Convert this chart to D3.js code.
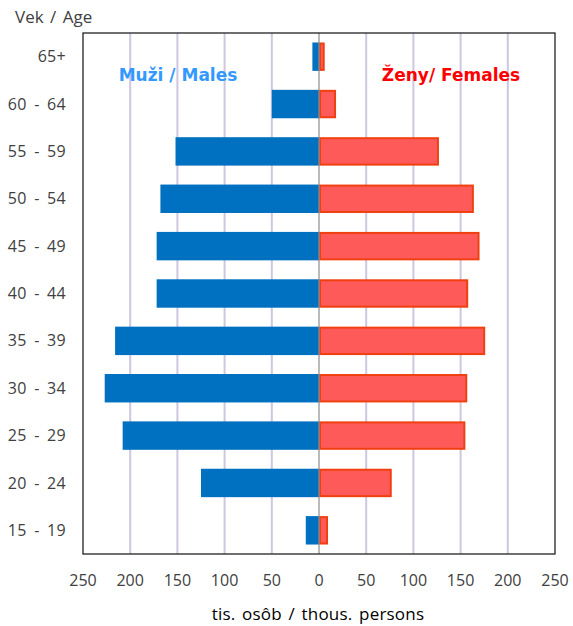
<!DOCTYPE html>
<html><head><meta charset="utf-8">
<script src="https://cdn.jsdelivr.net/npm/d3@7"></script>
<style>body{margin:0;background:#fff}svg{display:block}</style>
</head><body>
<svg id="c" width="573" height="626"></svg>
<script>
const ageGroups = ["65+","60 - 64","55 - 59","50 - 54","45 - 49","40 - 44","35 - 39","30 - 34","25 - 29","20 - 24","15 - 19"];
const males   = [7, 50, 152, 168, 172, 172, 216, 227, 208, 125, 14];
const females = [5, 17, 126, 163, 169, 157, 175, 156, 154, 76, 8.5];
const xTicks  = [-250,-200,-150,-100,-50,0,50,100,150,200,250];

const svg = d3.select("#c");
const L=83, R=555, T=33, B=554;
const x = d3.scaleLinear().domain([-250,250]).range([L,R]);
const y = d3.scaleBand().domain(ageGroups).range([T,B]).paddingInner(0.4).paddingOuter(0.2);

// grid
svg.append("g").selectAll("line").data(xTicks.filter(d=>d!==0 && Math.abs(d)!==250)).join("line")
  .attr("x1",d=>x(d)).attr("x2",d=>x(d)).attr("y1",T).attr("y2",B)
  .attr("stroke","#CFC6E0").attr("stroke-width",2);

// male bars
svg.append("g").selectAll("rect").data(ageGroups).join("rect")
  .attr("x",(d,i)=>x(-males[i])).attr("width",(d,i)=>x(0)-x(-males[i]))
  .attr("y",d=>y(d)).attr("height",y.bandwidth()).attr("fill","#0070C0");

// female bars
svg.append("g").selectAll("rect").data(ageGroups).join("rect")
  .attr("x",x(0)+1).attr("width",(d,i)=>x(females[i])-x(0)-1)
  .attr("y",d=>y(d)+1).attr("height",y.bandwidth()-2)
  .attr("fill","#FF5A5A").attr("stroke","#F04010").attr("stroke-width",2);

// center line
svg.append("line").attr("x1",x(0)).attr("x2",x(0)).attr("y1",T).attr("y2",B)
  .attr("stroke","#8C8C8C").attr("stroke-width",1.2);

// frame
svg.append("rect").attr("x",L).attr("y",T).attr("width",R-L).attr("height",B-T)
  .attr("fill","none").attr("stroke","#222").attr("stroke-width",1.3);

const tf = "'Open Sans', 'DejaVu Sans', sans-serif";
// y labels
svg.append("g").selectAll("text").data(ageGroups).join("text")
  .attr("x",66).attr("y",d=>y(d)+y.bandwidth()/2).attr("dy","0.35em")
  .attr("text-anchor","end").attr("font-family",tf).attr("font-size",16)
  .attr("word-spacing",3).attr("letter-spacing",0.3)
  .attr("fill","#404040").text(d=>d);

// x tick labels
svg.append("g").selectAll("text").data(xTicks).join("text")
  .attr("x",d=>x(d)).attr("y",580).attr("dy","0.35em")
  .attr("text-anchor","middle").attr("font-family",tf).attr("font-size",16)
  .attr("fill","#404040").text(d=>Math.abs(d));

svg.append("text").attr("x",15).attr("y",17).attr("dy","0.35em")
  .attr("font-family",tf).attr("font-size",17).attr("word-spacing",2).attr("fill","#404040").text("Vek / Age");

svg.append("text").attr("x",318).attr("y",614).attr("dy","0.35em").attr("text-anchor","middle")
  .attr("font-family",tf).attr("font-size",17).attr("word-spacing",2).attr("letter-spacing",0.2)
  .attr("fill","#000").text("tis. osôb / thous. persons");

const bf = "'DejaVu Sans', Verdana, sans-serif";
svg.append("text").attr("x",178).attr("y",75).attr("dy","0.35em").attr("text-anchor","middle")
  .attr("font-family",bf).attr("font-weight","bold").attr("font-size",17).attr("fill","#3399FF").text("Muži / Males");
svg.append("text").attr("x",451).attr("y",75).attr("dy","0.35em").attr("text-anchor","middle")
  .attr("font-family",bf).attr("font-weight","bold").attr("font-size",17).attr("fill","#FF0000").text("Ženy/ Females");
</script>
</body></html>
